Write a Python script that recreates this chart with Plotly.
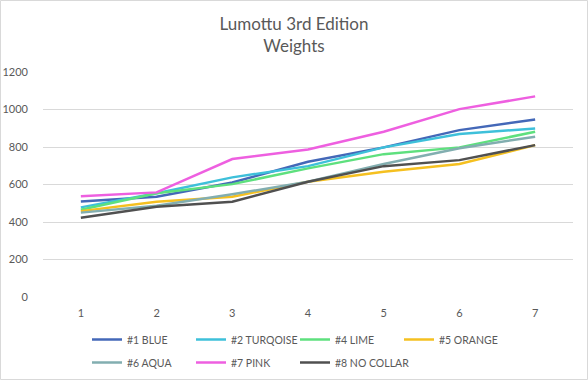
import plotly.graph_objects as go

x_vals = [1, 2, 3, 4, 5, 6, 7]
series_names = ["#1 BLUE", "#2 TURQOISE", "#4 LIME", "#5 ORANGE", "#6 AQUA", "#7 PINK", "#8 NO COLLAR"]
blue = [510, 535, 611, 721, 798, 890, 947]
turquoise = [478, 553, 638, 698, 798, 869, 899]
lime = [465, 553, 602, 686, 762, 798, 881]
orange = [458, 508, 535, 615, 668, 709, 810]
aqua = [450, 487, 548, 615, 709, 793, 855]
pink = [538, 558, 736, 787, 881, 1002, 1070]
no_collar = [423, 481, 508, 615, 698, 730, 810]
y_ticks = [0, 200, 400, 600, 800, 1000, 1200]

data = [blue, turquoise, lime, orange, aqua, pink, no_collar]
colors = ["#4468B8", "#3EC0DA", "#5EE07E", "#F5C020", "#82AEB0", "#EE5FE0", "#505050"]
legend_rows = ["legend", "legend", "legend", "legend", "legend2", "legend2", "legend2"]

fig = go.Figure()
for name, vals, c, lg in zip(series_names, data, colors, legend_rows):
    fig.add_trace(go.Scatter(x=x_vals, y=vals, name=name, mode="lines",
                             line=dict(color=c, width=2.5), legend=lg))
# invisible spacer entry so the second legend row is wide enough for its last label
fig.add_trace(go.Scatter(x=[None], y=[None], name=" ", mode="lines",
                         line=dict(color="rgba(0,0,0,0)", width=0), legend="legend2",
                         hoverinfo="skip"))

W, H = 588, 380
ML, MR, MT, MB = 43, 15, 72, 83
PW, PH = W - ML - MR, H - MT - MB

legend_common = dict(orientation="h", xref="paper", yref="paper",
                     xanchor="left", yanchor="top",
                     entrywidth=59, entrywidthmode="pixels",
                     font=dict(size=10.5, color="#595959"), itemwidth=30,
                     tracegroupgap=0, bgcolor="rgba(0,0,0,0)")

fig.update_layout(
    width=W, height=H,
    paper_bgcolor="white", plot_bgcolor="white",
    font=dict(family="Lato, Open Sans, sans-serif", color="#595959", size=11),
    margin=dict(l=ML, r=MR, t=MT, b=MB, autoexpand=False),
    title=dict(text="Lumottu 3rd Edition<br>Weights", x=0.5, xanchor="center",
               y=1 - 30/380, yanchor="middle", yref="container",
               font=dict(size=17, color="#595959")),
    xaxis=dict(range=[0.5, 7.5], tickvals=x_vals, showgrid=False, zeroline=False,
               showline=False, ticks="", ticklabelstandoff=8,
               tickfont=dict(size=11, color="#595959")),
    yaxis=dict(range=[0, 1200], tickvals=y_ticks, showgrid=True, gridcolor="#D9D9D9",
               gridwidth=1, zeroline=False, showline=False, ticks="",
               ticklabelstandoff=14, tickfont=dict(size=11, color="#595959")),
    legend=dict(x=(87 - ML)/PW, y=(H - MB - 325)/PH, **legend_common),
    legend2=dict(x=(87 - ML)/PW, y=(H - MB - 348)/PH, **legend_common),
    showlegend=True,
)
fig.add_shape(type="rect", xref="paper", yref="paper", x0=-(ML - 0.5)/PW, x1=1 + (MR - 0.5)/PW,
              y0=-(MB - 0.5)/PH, y1=1 + (MT - 0.5)/PH, line=dict(color="#D9D9D9", width=1),
              fillcolor="rgba(0,0,0,0)", layer="below")

fig.write_html("out.html", config={"displayModeBar": False},
               post_script="document.body.style.margin='0';")
